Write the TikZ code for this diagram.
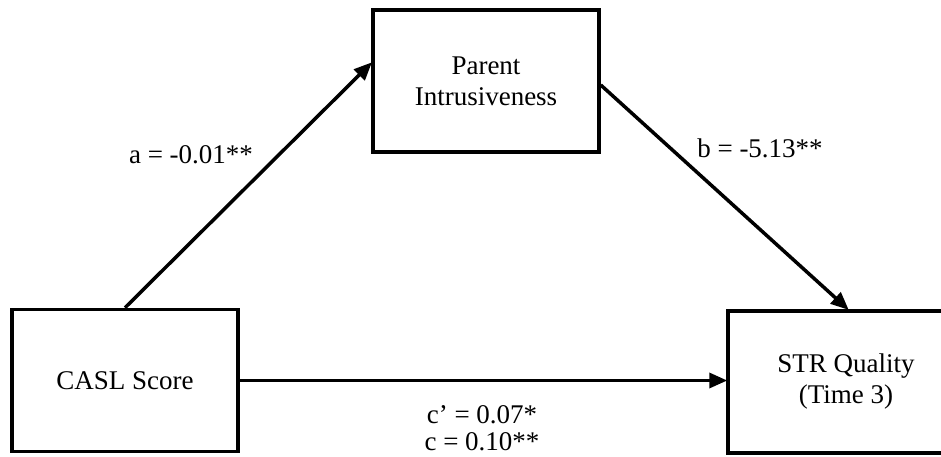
\documentclass[tikz,border=0pt]{standalone}
\usepackage{fontspec}
\setmainfont{Liberation Serif}
\usetikzlibrary{arrows.meta,calc}
\begin{document}
\begin{tikzpicture}[x=1pt,y=1pt,
  varbox/.style={draw=black,line width=3.5pt,minimum width=226pt,minimum height=142pt,align=center,inner sep=0pt,font=\fontsize{27}{31}\selectfont},
  arr/.style={line width=3.5pt,-{Triangle[length=18pt,width=15pt]},shorten >=-1pt},
  lab/.style={anchor=base,inner sep=0pt,font=\fontsize{27}{31}\selectfont}]
\useasboundingbox (0,0) rectangle (941,456);
\clip (0,0) rectangle (941,456);
\fill[white] (0,0) rectangle (941,456);
\node[varbox] (top) at (486,375) {Parent\\Intrusiveness};
\node[varbox] (casl) at (125,75.5) {CASL Score};
\node[varbox,minimum width=236pt] (str) at (846,74) {STR Quality\\(Time 3)};
\coordinate (ain) at ([yshift=18pt]top.west);
\coordinate (bout) at ([yshift=-4pt]top.east);
\coordinate (bin) at ([xshift=2pt]str.north);
\draw[arr] (casl.north) -- (ain);
\draw[arr] (bout) -- (bin);
\draw[arr] (casl.east) -- (casl.east -| str.west);
\node[lab] (la) at (191,293) {a = -0.01**};
\node[lab] (lb) at (760,299) {b = -5.13**};
\node[lab] (lc1) at (482,33) {c’ = 0.07*};
\node[lab] (lc2) at (482,6) {c = 0.10**};
\end{tikzpicture}
\end{document}
